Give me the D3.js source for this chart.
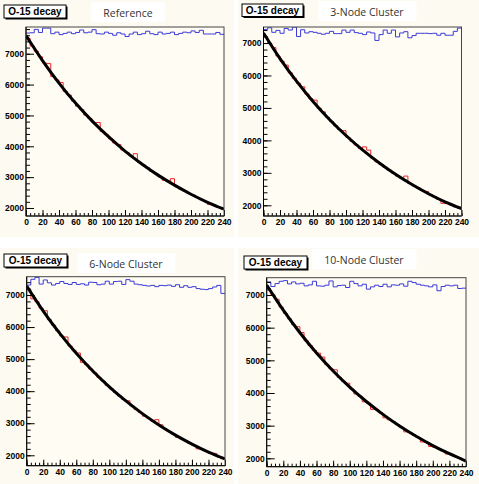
<!DOCTYPE html>
<html>
<head>
<meta charset="utf-8">
<script src="https://cdnjs.cloudflare.com/ajax/libs/d3/7.8.5/d3.min.js"></script>
<style>
  body { margin: 0; background: #fff; }
  svg { display: block; }
</style>
</head>
<body>
<div id="chart"></div>
<script>
// ---- data ----
const panelTitles = ['Reference', '3-Node Cluster', '6-Node Cluster', '10-Node Cluster'];
const boxLabel = 'O-15 decay';
const xTicks = [0, 20, 40, 60, 80, 100, 120, 140, 160, 180, 200, 220, 240];
const yTicks = [2000, 3000, 4000, 5000, 6000, 7000];
const binWidth = 5; // 48 bins over 0..240 s

// fitted decay curve, sampled every 20 s
const fitTimes = [0, 20, 40, 60, 80, 100, 120, 140, 160, 180, 200, 220, 240];
const fitRef = [7590, 6780, 6050, 5400, 4825, 4310, 3845, 3435, 3065, 2740, 2445, 2185, 1960];
const fit3 = [7310, 6520, 5825, 5200, 4645, 4150, 3705, 3310, 2955, 2640, 2355, 2105, 1900];
const fit6 = [7280, 6500, 5805, 5185, 4630, 4135, 3695, 3300, 2945, 2630, 2350, 2100, 1885];
const fit10 = [7305, 6535, 5845, 5225, 4675, 4180, 3740, 3345, 2990, 2675, 2390, 2140, 1915];

// decay histograms (red)
const histRef = [7500, 7250, 7080, 6900, 6700, 6680, 6260, 6150, 6070, 5780, 5660, 5470,
  5300, 5190, 5010, 4900, 4760, 4770, 4480, 4380, 4240, 4110, 4060, 3880,
  3800, 3690, 3760, 3480, 3390, 3300, 3190, 3120, 3010, 2900, 2870, 2950,
  2690, 2610, 2560, 2470, 2420, 2340, 2270, 2210, 2110, 2090, 2030, 1980];
const hist3 = [7200, 6990, 6860, 6600, 6440, 6320, 6080, 5910, 5760, 5650, 5430, 5280,
  5240, 4990, 4880, 4710, 4580, 4450, 4330, 4300, 4090, 3970, 3860, 3750,
  3800, 3700, 3450, 3340, 3260, 3170, 3080, 2990, 2900, 2830, 2900, 2670,
  2600, 2540, 2460, 2430, 2320, 2260, 2180, 2060, 2050, 2010, 1950, 1900];
const hist6 = [7180, 6880, 6790, 6590, 6510, 6230, 6060, 5880, 5720, 5690, 5410, 5260,
  5190, 4900, 4830, 4690, 4570, 4430, 4320, 4180, 4070, 3960, 3850, 3740,
  3700, 3540, 3430, 3340, 3220, 3160, 3070, 3110, 2950, 2820, 2740, 2660,
  2560, 2520, 2450, 2370, 2310, 2200, 2190, 2120, 2060, 2060, 1950, 1890];
const hist10 = [7150, 7010, 6870, 6630, 6440, 6270, 6090, 6030, 5850, 5600, 5450, 5300,
  5220, 5100, 4870, 4740, 4710, 4480, 4360, 4300, 4120, 3970, 3900, 3730,
  3690, 3500, 3490, 3390, 3240, 3180, 3120, 3030, 2950, 2810, 2790, 2710,
  2640, 2500, 2490, 2360, 2330, 2290, 2230, 2130, 2110, 2050, 2010, 1940];

// flat (random-number) histograms (blue)
const flatRef = [7670, 7680, 7790, 7690, 7830, 7830, 7650, 7700, 7620, 7660, 7700, 7650,
  7690, 7770, 7680, 7700, 7780, 7650, 7640, 7700, 7660, 7600, 7680, 7640,
  7560, 7640, 7700, 7620, 7650, 7730, 7650, 7620, 7700, 7640, 7660, 7700,
  7620, 7660, 7700, 7680, 7740, 7690, 7760, 7640, 7640, 7640, 7690, 7630];
const flat3 = [7420, 7470, 7330, 7390, 7300, 7450, 7400, 7490, 7200, 7410, 7310, 7350,
  7330, 7300, 7270, 7300, 7360, 7290, 7290, 7400, 7330, 7400, 7320, 7300,
  7260, 7340, 7310, 7080, 7260, 7400, 7300, 7400, 7190, 7310, 7350, 7160,
  7230, 7300, 7300, 7300, 7290, 7300, 7240, 7300, 7240, 7240, 7360, 7460];
const flat6 = [7310, 7490, 7550, 7340, 7470, 7380, 7310, 7360, 7420, 7360, 7330, 7390,
  7330, 7350, 7310, 7400, 7390, 7320, 7340, 7430, 7340, 7420, 7430, 7330,
  7480, 7430, 7340, 7320, 7300, 7280, 7300, 7260, 7300, 7290, 7310, 7270,
  7320, 7240, 7290, 7240, 7260, 7200, 7180, 7170, 7200, 7250, 7300, 7050];
const flat10 = [7400, 7260, 7350, 7420, 7440, 7340, 7400, 7340, 7360, 7280, 7310, 7420,
  7280, 7270, 7300, 7430, 7250, 7290, 7300, 7230, 7420, 7350, 7280, 7330,
  7180, 7250, 7300, 7260, 7330, 7250, 7310, 7300, 7340, 7270, 7420, 7380,
  7330, 7300, 7280, 7250, 7310, 7130, 7260, 7300, 7280, 7300, 7200, 7210];

// ---- layout (pixel boxes per pad) ----
const pads = [
  { title: panelTitles[0], fit: fitRef, hist: histRef, flat: flatRef,
    bg: [0, 0, 234, 237], frame: [26, 27, 224, 216], yDomain: [1740, 7867],
    box: [4, 5, 62, 13], titleAt: [128, 17] },
  { title: panelTitles[1], fit: fit3, hist: hist3, flat: flat3,
    bg: [238, 0, 479, 237], frame: [263.5, 27, 461.5, 216], yDomain: [1670, 7494],
    box: [242, 4, 61, 12.5], titleAt: [367, 16] },
  { title: panelTitles[2], fit: fit6, hist: hist6, flat: flat6,
    bg: [0, 248, 234, 484], frame: [26.7, 276.7, 225, 465.7], yDomain: [1675, 7571],
    box: [4, 254, 63, 13], titleAt: [126, 268] },
  { title: panelTitles[3], fit: fit10, hist: hist10, flat: flat10,
    bg: [238, 248, 479, 484], frame: [266.7, 277.7, 466, 466.7], yDomain: [1743, 7530],
    box: [244, 256, 63, 13], titleAt: [364, 264] }
];

const width = 479, height = 484;
const svg = d3.select('#chart').append('svg')
  .attr('width', width)
  .attr('height', height);

const axisFont = '"Liberation Sans", Arial, sans-serif';

pads.forEach((p, idx) => {
  const g = svg.append('g').attr('class', 'pad');
  const [bx0, by0, bx1, by1] = p.bg;
  const [fx0, fy0, fx1, fy1] = p.frame;

  // pad background
  g.append('rect')
    .attr('x', bx0).attr('y', by0)
    .attr('width', bx1 - bx0).attr('height', by1 - by0)
    .attr('fill', '#fdfbf1');

  const x = d3.scaleLinear().domain([0, 240]).range([fx0, fx1]);
  const y = d3.scaleLinear().domain(p.yDomain).range([fy1, fy0]);

  // plot area
  g.append('rect')
    .attr('x', fx0).attr('y', fy0)
    .attr('width', fx1 - fx0).attr('height', fy1 - fy0)
    .attr('fill', '#fffdf3');

  const clipId = 'clip' + idx;
  g.append('clipPath').attr('id', clipId)
    .append('rect')
    .attr('x', fx0).attr('y', fy0)
    .attr('width', fx1 - fx0).attr('height', fy1 - fy0);

  const plot = g.append('g').attr('clip-path', `url(#${clipId})`);

  // step histograms
  const stepLine = d3.line()
    .x(d => x(d[0]))
    .y(d => y(d[1]))
    .curve(d3.curveStepAfter);
  const toSteps = vals => {
    let pts = vals.map((v, i) => [i * binWidth, v]);
    pts.push([vals.length * binWidth, vals[vals.length - 1]]);
    return pts;
  };

  plot.append('path')
    .attr('d', stepLine(toSteps(p.flat)))
    .attr('fill', 'none')
    .attr('stroke', '#3a3ad8')
    .attr('stroke-width', 1);

  plot.append('path')
    .attr('d', stepLine(toSteps(p.hist)))
    .attr('fill', 'none')
    .attr('stroke', '#e8262a')
    .attr('stroke-width', 1);

  // fit curve
  const fitLine = d3.line()
    .x((d, i) => x(fitTimes[i]))
    .y(d => y(d))
    .curve(d3.curveNatural);
  plot.append('path')
    .attr('d', fitLine(p.fit))
    .attr('fill', 'none')
    .attr('stroke', '#000')
    .attr('stroke-width', 3);

  // axes: ROOT style ticks point inward
  const xMajor = d3.axisBottom(x).tickValues(xTicks).tickSize(-6).tickSizeOuter(0).tickPadding(3)
    .tickFormat(d3.format('d'));
  const xMinor = d3.axisBottom(x).tickValues(d3.range(0, 241, binWidth)).tickSize(-3).tickSizeOuter(0).tickFormat('');
  const yMajor = d3.axisLeft(y).tickValues(yTicks).tickSize(-8).tickSizeOuter(0).tickPadding(2)
    .tickFormat(d3.format('d'));
  const yMinor = d3.axisLeft(y)
    .tickValues(d3.range(2000, 7801, 200).filter(v => v >= p.yDomain[0] && v <= p.yDomain[1]))
    .tickSize(-4).tickSizeOuter(0).tickFormat('');

  [xMinor, xMajor].forEach(ax => {
    g.append('g')
      .attr('transform', `translate(0,${fy1})`)
      .call(ax)
      .call(s => s.select('.domain').remove());
  });
  [yMinor, yMajor].forEach(ax => {
    g.append('g')
      .attr('transform', `translate(${fx0},0)`)
      .call(ax)
      .call(s => s.select('.domain').remove());
  });
  g.selectAll('.tick line').attr('stroke', '#000').attr('stroke-width', 1);
  g.selectAll('.tick text')
    .attr('fill', '#000')
    .style('font-family', axisFont)
    .style('font-weight', 'bold')
    .style('font-size', '8.5px');

  // frame
  g.append('rect')
    .attr('x', fx0).attr('y', fy0)
    .attr('width', fx1 - fx0).attr('height', fy1 - fy0)
    .attr('fill', 'none')
    .attr('stroke', '#444')
    .attr('stroke-width', 1);
  g.append('line')
    .attr('x1', fx0).attr('x2', fx0).attr('y1', fy0).attr('y2', fy1)
    .attr('stroke', '#000');
  g.append('line')
    .attr('x1', fx0).attr('x2', fx1).attr('y1', fy1).attr('y2', fy1)
    .attr('stroke', '#000');

  // "O-15 decay" stat box with shadow
  const [tx, ty, tw, th] = p.box;
  g.append('rect')
    .attr('x', tx + 1.5).attr('y', ty + 1.5)
    .attr('width', tw).attr('height', th)
    .attr('fill', '#000');
  g.append('rect')
    .attr('x', tx).attr('y', ty)
    .attr('width', tw).attr('height', th)
    .attr('fill', '#fff')
    .attr('stroke', '#000')
    .attr('stroke-width', 1);
  g.append('text')
    .attr('x', tx + tw / 2).attr('y', ty + th / 2 + 3.5)
    .attr('text-anchor', 'middle')
    .style('font-family', axisFont)
    .style('font-weight', 'bold')
    .style('font-size', '10px')
    .text(boxLabel);

  // pad caption
  const [cx, cy] = p.titleAt;
  const cap = g.append('text')
    .attr('x', cx).attr('y', cy)
    .attr('text-anchor', 'middle')
    .attr('fill', '#333')
    .style('font-family', '"Open Sans", sans-serif')
    .style('font-size', '10.5px')
    .text(p.title);
  const bb = cap.node().getBBox();
  g.insert('rect', () => cap.node())
    .attr('x', bb.x - 12).attr('y', bb.y - 4)
    .attr('width', bb.width + 24).attr('height', bb.height + 6)
    .attr('fill', '#fff');
});
</script>
</body>
</html>
